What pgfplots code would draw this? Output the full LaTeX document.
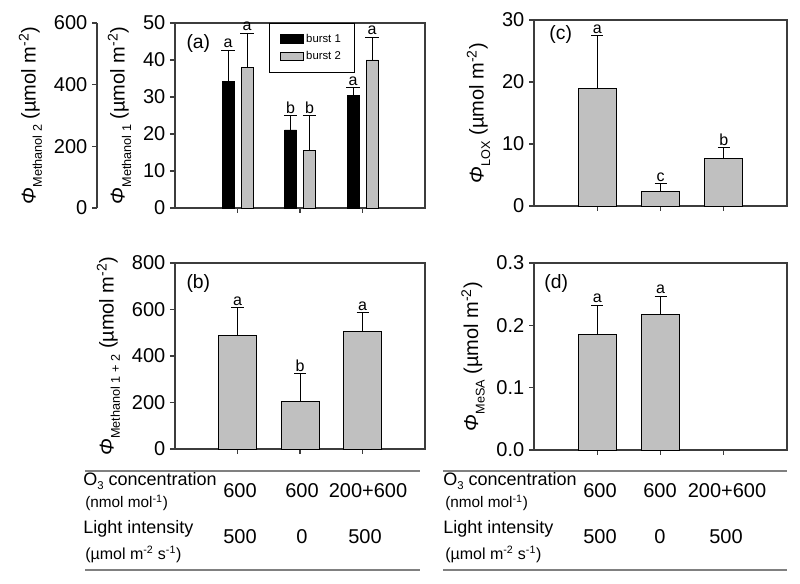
\documentclass[border=0pt]{standalone}
\usepackage{fontspec}
\setmainfont{Liberation Sans}
\usepackage{pgfplots}
\pgfplotsset{compat=1.18}
\definecolor{barg}{RGB}{192,192,192}
\definecolor{axc}{RGB}{60,60,60}
\definecolor{rule}{RGB}{128,128,128}
\newcommand{\lsub}[1]{\raisebox{-0.32em}{\fontsize{9.5}{10}\selectfont #1}}
\newcommand{\osub}[1]{\raisebox{-0.18em}{\fontsize{8.5}{9}\selectfont #1}}

\tikzset{tag/.style={font=\fontsize{14.5}{15}\selectfont, anchor=west, inner sep=0pt}}
\pgfplotsset{
  panel/.style={
    scale only axis, anchor=north west, clip=false,
    xmin=0, xmax=4, xtick={1,2,3}, xticklabels={},
    xtick pos=bottom, ytick pos=left, tick align=outside,
    major tick length=3.75pt,
    axis line style={axc, line width=0.8pt},
    every tick/.style={axc, line width=0.8pt},
    ymin=0,
    tick label style={font=\fontsize{15}{15}\selectfont},
    /pgf/number format/assume math mode=true,
    ylabel style={font=\fontsize{15}{16}\selectfont, yshift=2pt},
  },
  grey bar/.style={ybar, bar width=28.5pt, fill=barg, draw=black, line width=0.6pt,
    error bars/.cd, y dir=plus, y explicit,
    error bar style={black, line width=0.6pt},
    error mark options={rotate=90, black, mark size=4.5pt, line width=0.6pt}},
  letters/.style={only marks, mark=none, forget plot, nodes near coords,
    point meta=explicit symbolic,
    nodes near coords style={font=\fontsize{12}{12}\selectfont, anchor=south, inner sep=1.5pt, black}},
}

\begin{document}
\begin{tikzpicture}
\path[use as bounding box] (0pt,0pt) rectangle (600pt,-438pt);

% (a) outer axis, methanol 2
\begin{axis}[panel, at={(72.75pt,-17.25pt)}, width=1pt, height=138.75pt,
  xmin=0, xmax=1, hide x axis, axis y line*=left,
  ymax=600, ytick={0,200,400,600},
  ylabel={\textit{Φ}\lsub{Methanol 2} (µmol m\textsuperscript{-2})}]
\addplot[draw=none, forget plot] coordinates {(0,0)};
\end{axis}

% (a) methanol 1, two bursts
\begin{axis}[panel, at={(131.25pt,-17.25pt)}, width=187.5pt, height=138.75pt,
  ymax=50, ytick={0,10,20,30,40,50},
  ylabel={\textit{Φ}\lsub{Methanol 1} (µmol m\textsuperscript{-2})},
  legend style={at={(0.376,1)}, anchor=north west, draw=black, line width=0.6pt,
    font=\fontsize{8.5}{9}\selectfont, inner xsep=8pt, inner ysep=6pt, row sep=1.5pt,
    cells={anchor=west}},
  legend image code/.code={\draw[#1] (0pt,-3pt) rectangle (17pt,3.5pt);}]
\addplot[ybar, bar width=9pt, bar shift=0pt, fill=black, draw=black, line width=0.6pt,
  error bars/.cd, y dir=plus, y explicit, error bar style={black, line width=0.6pt},
  error mark options={rotate=90, black, mark size=5pt, line width=0.6pt}]
  coordinates {(0.848,34.1) +- (0,8.6) (1.848,21.1) +- (0,3.9) (2.848,30.5) +- (0,2.0)};
\addlegendentry{burst 1}
\addplot[ybar, bar width=9pt, bar shift=0pt, fill=barg, draw=black, line width=0.6pt,
  error bars/.cd, y dir=plus, y explicit, error bar style={black, line width=0.6pt},
  error mark options={rotate=90, black, mark size=5pt, line width=0.6pt}]
  coordinates {(1.152,38.0) +- (0,9.3) (2.152,15.6) +- (0,9.4) (3.152,40.0) +- (0,6.2)};
\addlegendentry{burst 2}
\addplot[letters] coordinates {(0.848,42.7)[a] (1.848,25.0)[b] (2.848,32.5)[a]
  (1.152,47.3)[a] (2.152,25.0)[b] (3.152,46.2)[a]};
\node[tag] at (rel axis cs:0.045,0.89) {(a)};
\end{axis}

% (c) LOX
\begin{axis}[panel, at={(400.5pt,-15pt)}, width=189.75pt, height=139.5pt,
  ymax=30, ytick={0,10,20,30},
  ylabel={\textit{Φ}\lsub{LOX} (µmol m\textsuperscript{-2})}]
\addplot[grey bar] coordinates {(1,18.9) +- (0,8.6) (2,2.4) +- (0,1.2) (3,7.7) +- (0,1.7)};
\addplot[letters] coordinates {(1,27.5)[a] (2,3.6)[c] (3,9.4)[b]};
\node[tag] at (rel axis cs:0.06,0.92) {(c)};
\end{axis}

% (b) methanol 1 + 2
\begin{axis}[panel, at={(131.25pt,-197.25pt)}, width=187.5pt, height=139.5pt,
  ymax=800, ytick={0,200,400,600,800},
  ylabel={\textit{Φ}\lsub{Methanol 1 + 2} (µmol m\textsuperscript{-2})}]
\addplot[grey bar] coordinates {(1,487) +- (0,121) (2,206) +- (0,118) (3,507) +- (0,79)};
\addplot[letters] coordinates {(1,608)[a] (2,324)[b] (3,586)[a]};
\node[tag] at (rel axis cs:0.045,0.89) {(b)};
\end{axis}

% (d) MeSA
\begin{axis}[panel, at={(400.5pt,-197.25pt)}, width=189.75pt, height=140.25pt,
  ymax=0.3, ytick={0,0.1,0.2,0.3},
  yticklabel style={/pgf/number format/.cd, fixed, fixed zerofill, precision=1},
  ylabel={\textit{Φ}\lsub{MeSA} (µmol m\textsuperscript{-2})}]
\addplot[grey bar] coordinates {(1,0.186) +- (0,0.046) (2,0.217) +- (0,0.030)};
\addplot[letters] coordinates {(1,0.232)[a] (2,0.247)[a]};
\node[tag] at (rel axis cs:0.04,0.89) {(d)};
\end{axis}

% treatment tables
\draw[rule, line width=1.2pt] (63.75pt,-353.25pt) -- (315pt,-353.25pt);
\draw[rule, line width=1.2pt] (63.75pt,-427.5pt) -- (315pt,-427.5pt);
\draw[rule, line width=1.2pt] (332.25pt,-353.25pt) -- (590.25pt,-353.25pt);
\draw[rule, line width=1.2pt] (332.25pt,-427.5pt) -- (590.25pt,-427.5pt);
\begin{scope}[every node/.style={inner sep=0pt, font=\fontsize{13.5}{14}\selectfont}]
\foreach \dx/\ca/\cb/\cc/\la/\lb/\lc in {0/180/226.5/276/180/226.5/273.75, 270/450/495/545.25/450/495/544.5}{
  \node[anchor=base west] at (62.25pt+\dx pt,-364.5pt) {O\osub{3} concentration};
  \node[anchor=base west, font=\fontsize{11.5}{12}\selectfont] at (63.75pt+\dx pt,-381pt) {(nmol mol\textsuperscript{-1})};
  \node[anchor=base west] at (62.25pt+\dx pt,-399.75pt) {Light intensity};
  \node[anchor=base west, font=\fontsize{12}{12}\selectfont] at (63.75pt+\dx pt,-419.25pt) {(µmol m\textsuperscript{-2} s\textsuperscript{-1})};
  \begin{scope}[every node/.style={inner sep=0pt, font=\fontsize{15}{15}\selectfont}]
  \node[anchor=base] at (\ca pt,-373.5pt) {600};
  \node[anchor=base] at (\cb pt,-373.5pt) {600};
  \node[anchor=base] at (\cc pt,-373.5pt) {200+600};
  \node[anchor=base] at (\la pt,-407.25pt) {500};
  \node[anchor=base] at (\lb pt,-407.25pt) {0};
  \node[anchor=base] at (\lc pt,-407.25pt) {500};
  \end{scope}
}
\end{scope}
\end{tikzpicture}
\end{document}
